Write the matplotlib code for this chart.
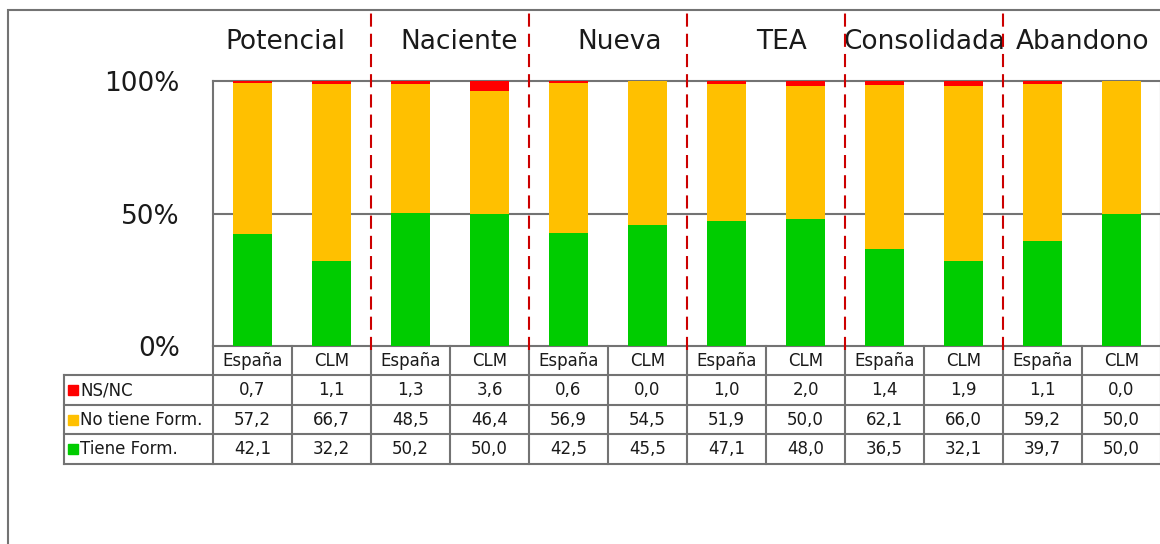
import matplotlib
matplotlib.use("Agg")
import matplotlib.pyplot as plt
import matplotlib.transforms as mtransforms
from matplotlib.patches import Rectangle

plt.rcParams["font.family"] = ["DejaVu Sans"]

# --- data --------------------------------------------------------------
groups = ["Potencial", "Naciente", "Nueva", "TEA", "Consolidada", "Abandono"]
regions = ["España", "CLM"]
series_names = ["NS/NC", "No tiene Form.", "Tiene Form."]
nsnc = [0.7, 1.1, 1.3, 3.6, 0.6, 0.0, 1.0, 2.0, 1.4, 1.9, 1.1, 0.0]
no_tiene = [57.2, 66.7, 48.5, 46.4, 56.9, 54.5, 51.9, 50.0, 62.1, 66.0, 59.2, 50.0]
tiene = [42.1, 32.2, 50.2, 50.0, 42.5, 45.5, 47.1, 48.0, 36.5, 32.1, 39.7, 50.0]

# label nudges (fraction of one bar slot), as placed in the original text boxes
label_nudge = [-0.08, 0.11, 0.15, 0.2, 0.01, 0.01]

RED, YELLOW, GREEN = "#FF0000", "#FFC000", "#00CC00"
GRID = "#737373"
TXT = "#1a1a1a"

W, H = 1160, 544
fig = plt.figure(figsize=(W / 100, H / 100), dpi=100)
ax = fig.add_axes([213 / W, 1 - 346 / H, 948 / W, 265 / H])

n = len(tiene)
x = list(range(n))
bw = 0.5
ax.bar(x, tiene, bw, color=GREEN, zorder=3)
ax.bar(x, no_tiene, bw, bottom=tiene, color=YELLOW, zorder=3)
bottom3 = [a + b for a, b in zip(tiene, no_tiene)]
ax.bar(x, nsnc, bw, bottom=bottom3, color=RED, zorder=3)

ax.set_xlim(-0.5, n - 0.5)
ax.set_ylim(0, 100)
ax.set_yticks([0, 50, 100])
ax.set_yticklabels(["0%", "50%", "100%"], fontsize=19, color=TXT)
ax.set_xticks([])
ax.tick_params(axis="y", length=0, pad=24)
ax.axhline(50, color=GRID, lw=1.5, zorder=1)
for s in ["left", "top", "bottom", "right"]:
    ax.spines[s].set_color(GRID)
    ax.spines[s].set_linewidth(1.5)

trans = mtransforms.blended_transform_factory(ax.transData, ax.transAxes)

# group labels and separators
for i, g in enumerate(groups):
    ax.text(2 * i + 0.5 + label_nudge[i], 1.148, g, transform=trans,
            ha="center", va="center", fontsize=19, color=TXT)
    if i > 0:
        ax.plot([2 * i - 0.5, 2 * i - 0.5], [-0.015, 1.268], transform=trans,
                color="#CC0000", lw=1.5, linestyle=(0, (6.3, 3.4)),
                clip_on=False, zorder=5)

# data table
rh = 0.111
left = -0.5 - 149 / 79
right = n - 0.5 + 0.2
lkw = dict(color=GRID, lw=1.5, transform=trans, clip_on=False, zorder=4)
for k in range(1, 5):
    ax.plot([left, right], [-k * rh, -k * rh], **lkw)
ax.plot([left, left], [-rh, -4 * rh], **lkw)
for c in range(n + 1):
    ax.plot([c - 0.5, c - 0.5], [0, -4 * rh], **lkw)

for c in range(n):
    ax.text(c, -0.5 * rh, regions[c % 2], transform=trans, ha="center",
            va="center", fontsize=12, color=TXT)

rows = [(series_names[0], RED, nsnc), (series_names[1], YELLOW, no_tiene),
        (series_names[2], GREEN, tiene)]
for r, (name, col, vals) in enumerate(rows):
    yc = -(r + 1.5) * rh
    ax.plot([left + 9 / 79], [yc], marker="s", markersize=7, color=col,
            transform=trans, clip_on=False, linestyle="none")
    ax.text(left + 16 / 79, yc, name, transform=trans, ha="left", va="center",
            fontsize=12, color=TXT)
    for c, v in enumerate(vals):
        ax.text(c, yc, f"{v:.1f}".replace(".", ","), transform=trans,
                ha="center", va="center", fontsize=12, color=TXT)

# outer chart border (extends past the right and bottom edges)
fig.patches.append(Rectangle((8 / W, -0.2), 1.5, 1.2 - 10 / H, fill=False,
                             edgecolor=GRID, lw=1.5,
                             transform=fig.transFigure, figure=fig))

fig.savefig("out.png", dpi=100)
